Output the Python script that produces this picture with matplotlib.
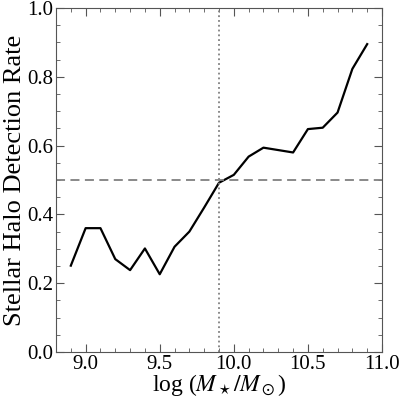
import numpy as np
import matplotlib
matplotlib.use("Agg")
import matplotlib.pyplot as plt
from matplotlib.ticker import MultipleLocator

# -----------------------------
# Data
# -----------------------------

log_mass = [8.9, 9.0, 9.1, 9.2, 9.3, 9.4, 9.5, 9.6, 9.7, 9.8, 9.9,
            10.0, 10.1, 10.2, 10.3, 10.4, 10.5, 10.6, 10.7, 10.8, 10.9]
det_rate = [0.251, 0.360, 0.360, 0.270, 0.238, 0.301, 0.226, 0.306, 0.350, 0.420, 0.492,
            0.515, 0.568, 0.594, 0.587, 0.580, 0.648, 0.652, 0.696, 0.823, 0.895]

mass_cut = 9.9
rate_half = 0.5

# -----------------------------
# Plot
# -----------------------------

plt.rcParams['font.family'] = ['Liberation Serif', 'DejaVu Serif']
plt.rcParams['mathtext.fontset'] = 'stix'

fig = plt.figure(figsize=(4, 4), dpi=100)
ax = fig.add_axes([0.14, 0.12, 0.815, 0.86])

ax.plot(log_mass, det_rate, color='black', lw=1.6)
ax.axhline(rate_half, color='gray', ls=(0, (5, 3)), lw=1.3)
ax.axvline(mass_cut, color='gray', ls=':', lw=1.3)

ax.set_xlim(8.8, 11.0)
ax.set_ylim(0.0, 1.0)
ax.xaxis.set_major_locator(MultipleLocator(0.5))
ax.xaxis.set_minor_locator(MultipleLocator(0.1))
ax.yaxis.set_major_locator(MultipleLocator(0.2))
ax.yaxis.set_minor_locator(MultipleLocator(0.05))
ax.tick_params(which='both', direction='in', top=True, right=True,
               color='#555555', labelsize=15)
ax.tick_params(which='major', length=6, pad=2)
ax.tick_params(which='minor', length=3)
for s in ax.spines.values():
    s.set_color('#555555')

ax.set_xlabel(r"log ($M_\star/M_\odot$)", fontsize=17, labelpad=-1)
ax.set_ylabel("Stellar Halo Detection Rate", fontsize=19, labelpad=1)

fig.savefig("out.png", dpi=100)
